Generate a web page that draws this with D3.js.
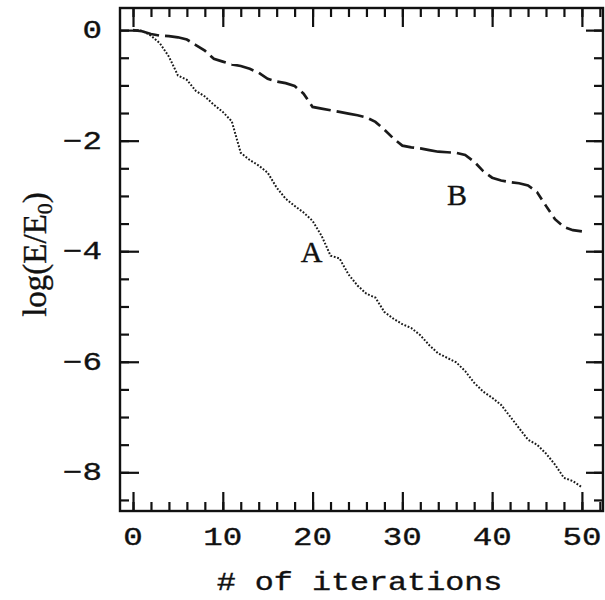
<!DOCTYPE html>
<html>
<head>
<meta charset="utf-8">
<script src="https://cdn.jsdelivr.net/npm/d3@7"></script>
<style>
  body { margin: 0; background: #fff; }
  svg { display: block; }
</style>
</head>
<body>
<svg id="chart" width="605" height="600"></svg>
<script>
// Iteration index for both runs
const iterations = d3.range(0, 51);

// Run A: log(E/E0) per iteration
const seriesA = [
  0.00, -0.01, -0.10, -0.24, -0.48, -0.82, -0.90, -1.10, -1.20, -1.35,
  -1.48, -1.65, -2.22, -2.35, -2.45, -2.58, -2.85, -3.05, -3.18, -3.30,
  -3.45, -3.72, -4.08, -4.13, -4.42, -4.62, -4.77, -4.84, -5.10, -5.22,
  -5.32, -5.39, -5.52, -5.70, -5.85, -5.93, -6.01, -6.17, -6.38, -6.54,
  -6.65, -6.78, -6.99, -7.20, -7.41, -7.50, -7.66, -7.86, -8.10, -8.16,
  -8.27
];

// Run B: log(E/E0) per iteration
const seriesB = [
  0.00, -0.02, -0.07, -0.10, -0.11, -0.13, -0.17, -0.27, -0.37, -0.52,
  -0.57, -0.62, -0.65, -0.70, -0.77, -0.88, -0.93, -0.96, -1.01, -1.15,
  -1.39, -1.42, -1.45, -1.48, -1.51, -1.54, -1.58, -1.66, -1.80, -1.96,
  -2.09, -2.12, -2.14, -2.17, -2.20, -2.21, -2.22, -2.26, -2.38, -2.55,
  -2.67, -2.72, -2.75, -2.77, -2.81, -2.93, -3.18, -3.42, -3.56, -3.62,
  -3.64
];

const xTicks = [0, 10, 20, 30, 40, 50];
const xMinorTicks = d3.range(0, 53, 2);
const yTicks = [0, -2, -4, -6, -8];
const yMinorTicks = d3.range(-17, 1).map(k => k * 0.5);

const curveNames = ["A", "B"];
// where each curve's letter sits, in data units (iteration, log E/E0)
const curveLabelIter = [19.9, 36.1];
const curveLabelLog = [-4.19, -3.16];

const svg = d3.select("#chart");
const ink = "#111";

const x = d3.scaleLinear().domain([-1.45, 52.35]).range([120, 603]);
const y = d3.scaleLinear().domain([0.4, -8.7]).range([8, 511]);

const [plotLeft, plotRight] = x.range();
const [plotTop, plotBottom] = y.range();

// plot frame
svg.append("rect")
  .attr("x", plotLeft).attr("y", plotTop)
  .attr("width", plotRight - plotLeft).attr("height", plotBottom - plotTop)
  .attr("fill", "none").attr("stroke", ink).attr("stroke-width", 2.4);

// inward ticks on all four sides
function tickRow(axis, tr, values, size) {
  const g = svg.append("g").attr("transform", tr)
    .call(axis.tickValues(values).tickSize(-size).tickFormat(""));
  g.select(".domain").remove();
  g.selectAll(".tick line").attr("stroke", ink).attr("stroke-width", 2.2);
}
const majorLen = 19, minorLen = 9;
tickRow(d3.axisBottom(x), `translate(0,${plotBottom})`, xMinorTicks, minorLen);
tickRow(d3.axisBottom(x), `translate(0,${plotBottom})`, xTicks, majorLen);
tickRow(d3.axisTop(x), `translate(0,${plotTop})`, xMinorTicks, minorLen);
tickRow(d3.axisTop(x), `translate(0,${plotTop})`, xTicks, majorLen);
tickRow(d3.axisLeft(y), `translate(${plotLeft},0)`, yMinorTicks, minorLen);
tickRow(d3.axisLeft(y), `translate(${plotLeft},0)`, yTicks, majorLen);
tickRow(d3.axisRight(y), `translate(${plotRight},0)`, yMinorTicks, minorLen);
tickRow(d3.axisRight(y), `translate(${plotRight},0)`, yTicks, majorLen - 2);

// wide typewriter-style numerals, slightly emboldened
const mono = "'Liberation Mono', 'DejaVu Sans Mono', monospace";
const stretch = 1.3;
const heavy = sel => sel.attr("fill", ink).attr("stroke", ink)
  .attr("stroke-width", 0.35).attr("paint-order", "stroke");

svg.append("g").selectAll("text").data(xTicks).join("text")
  .attr("transform", d => `translate(${x(d)},${plotBottom + 34}) scale(${stretch},1)`)
  .attr("text-anchor", "middle")
  .attr("font-family", mono).attr("font-size", 25)
  .call(heavy)
  .text(d => d3.format("d")(d));

svg.append("g").selectAll("text").data(yTicks).join("text")
  .attr("transform", d => `translate(${plotLeft - 18},${y(d) + 8}) scale(${stretch},1)`)
  .attr("text-anchor", "end")
  .attr("font-family", mono).attr("font-size", 25)
  .call(heavy)
  .text(d => d === 0 ? "0" : "\u2212" + Math.abs(d));

// axis titles
svg.append("text")
  .attr("transform", `translate(${(plotLeft + plotRight) / 2 - 2},${plotBottom + 79}) scale(1.27,1)`)
  .attr("text-anchor", "middle")
  .attr("font-family", mono).attr("font-size", 25)
  .call(heavy)
  .text("# of iterations");

const serif = "'Liberation Serif', 'Times New Roman', serif";
const yTitle = svg.append("text")
  .attr("transform", `translate(46,${(plotTop + plotBottom) / 2 - 5}) rotate(-90)`)
  .attr("text-anchor", "middle")
  .attr("font-family", serif).attr("font-size", 33)
  .call(heavy);
yTitle.append("tspan").text("log(E/E");
yTitle.append("tspan").attr("font-size", 22).attr("dy", 6).text("0");
yTitle.append("tspan").attr("dy", -6).text(")");

// curves
const pointsOf = vals => vals.map((v, i) => [x(iterations[i]), y(v)]);
const line = d3.line();

// dotted run A
svg.append("path")
  .attr("d", line(pointsOf(seriesA)))
  .attr("fill", "none").attr("stroke", "#1a1a1a")
  .attr("stroke-width", 2)
  .attr("stroke-dasharray", "1.8 1.7");

// dashed run B: dash length shrinks where the curve is steep
function dashPieces(pts, dashCost, gapPx, steep) {
  const pieces = [];
  let cur = [pts[0]], inDash = true, rem = dashCost;
  for (let k = 0; k < pts.length - 1; k++) {
    const [x0, y0] = pts[k], [x1, y1] = pts[k + 1];
    const dx = x1 - x0, dy = y1 - y0, L = Math.hypot(dx, dy);
    if (L === 0) continue;
    const rate = Math.hypot(dx, steep * dy) / L;
    let t = 0;
    while (t < L) {
      const r = inDash ? rate : 1;
      const need = rem / r;
      if (t + need <= L) {
        t += need;
        const p = [x0 + dx * t / L, y0 + dy * t / L];
        if (inDash) { cur.push(p); pieces.push(cur); cur = null; inDash = false; rem = gapPx; }
        else { cur = [p]; inDash = true; rem = dashCost; }
      } else {
        rem -= (L - t) * r;
        t = L;
        if (inDash) cur.push([x1, y1]);
      }
    }
  }
  if (cur && cur.length > 1) pieces.push(cur);
  return pieces;
}

svg.append("g").selectAll("path")
  .data(dashPieces(pointsOf(seriesB), 38, 6, 5))
  .join("path")
  .attr("d", d => line(d))
  .attr("fill", "none").attr("stroke", "#1a1a1a")
  .attr("stroke-width", 2.7).attr("stroke-linecap", "butt");

// curve letters
svg.append("g").selectAll("text").data(curveNames).join("text")
  .attr("x", (d, i) => x(curveLabelIter[i]))
  .attr("y", (d, i) => y(curveLabelLog[i]))
  .attr("text-anchor", "middle")
  .attr("font-family", serif).attr("font-size", 30)
  .call(heavy)
  .text(d => d);
</script>
</body>
</html>
